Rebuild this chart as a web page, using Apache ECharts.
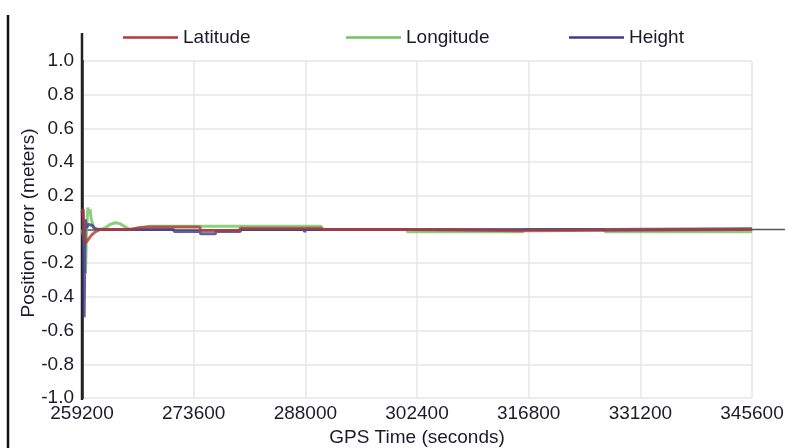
<!DOCTYPE html>
<html>
<head>
<meta charset="utf-8">
<script src="https://cdn.jsdelivr.net/npm/echarts@6/dist/echarts.min.js"></script>
<style>html,body{margin:0;padding:0;background:#fff;}#c{width:785px;height:448px;}</style>
</head>
<body>
<div id="c"></div>
<script>
const seriesNames = ['Latitude', 'Longitude', 'Height'];
const xTicks = [259200, 273600, 288000, 302400, 316800, 331200, 345600];
const yTicks = [-1.0, -0.8, -0.6, -0.4, -0.2, 0.0, 0.2, 0.4, 0.6, 0.8, 1.0];

const latitude = [
  [259200, 0.1], [259330, 0.12], [259460, 0.0], [259600, -0.08], [259800, -0.075],
  [260000, -0.06], [260230, -0.045], [260500, -0.03], [260880, -0.015], [261500, 0.0],
  [262800, 0.0], [264000, 0.0], [265400, 0.0], [266700, 0.01], [268000, 0.015],
  [274400, 0.015], [274500, -0.006], [279500, -0.006], [279600, 0.008], [290000, 0.008],
  [290300, 0.0], [301000, 0.0], [301200, -0.008], [316000, -0.008], [316200, 0.0],
  [345600, 0.0]
];
const longitude = [
  [259200, 0.0], [259450, -0.05], [259650, -0.26], [259780, -0.02], [259950, 0.13],
  [260100, 0.1], [260230, 0.12], [260400, 0.06], [260700, 0.01], [261000, 0.0],
  [261600, 0.0], [262200, 0.01], [262800, 0.03], [263500, 0.04], [264100, 0.035],
  [264800, 0.015], [265400, 0.0], [266700, 0.012], [268000, 0.02], [280000, 0.02],
  [290000, 0.02], [290300, 0.0], [301000, 0.0], [301200, -0.014], [316000, -0.014],
  [316200, 0.0], [326500, 0.0], [326700, -0.014], [345600, -0.014]
];
const height = [
  [259200, 0.1], [259330, 0.12], [259480, -0.52], [259620, 0.06], [259800, 0.01],
  [260000, 0.03], [260230, 0.04], [260500, 0.025], [260880, 0.005], [261500, 0.0],
  [271000, 0.0], [271100, -0.012], [274400, -0.012], [274500, -0.025], [276400, -0.025],
  [276500, -0.012], [279600, -0.012], [279700, 0.0], [287800, 0.0], [287900, -0.014],
  [288100, 0.0], [326500, 0.0], [326700, 0.004], [345600, 0.004]
];
const colors = ['#b03a3a', '#72c35f', '#3f3a8a'];

const chart = echarts.init(document.getElementById('c'), null, {renderer: 'canvas'});
const font = 'Liberation Sans, Arial, sans-serif';
const legendLefts = [123, 346, 569];
const option = {
  animation: false,
  backgroundColor: '#fff',
  textStyle: {fontFamily: font},
  grid: {left: 82, right: 33, top: 61, bottom: 50, containLabel: false, outerBoundsMode: 'none'},
  legend: seriesNames.map((n, i) => ({
    data: [n], left: legendLefts[i], top: 28, itemWidth: 55, itemHeight: 2.5,
    icon: 'rect', itemGap: 0, padding: 0,
    textStyle: {fontSize: 19, color: '#1a1a2a', fontFamily: font}
  })),
  xAxis: {
    type: 'value', min: xTicks[0], max: xTicks[xTicks.length - 1], interval: 14400,
    name: 'GPS Time (seconds)', nameLocation: 'middle', nameGap: 30, nameMoveOverlap: false,
    nameTextStyle: {fontSize: 19, color: '#1a1a2a', fontFamily: font},
    axisLine: {onZero: true, lineStyle: {color: '#555', width: 1.5}},
    axisTick: {show: false},
    axisLabel: {fontSize: 19, color: '#1a1a2a', margin: 6, fontFamily: font,
      customValues: xTicks, formatter: v => String(v)},
    splitLine: {show: true, lineStyle: {color: '#e6e6e6', width: 1.5}}
  },
  yAxis: {
    type: 'value', min: -1, max: 1, interval: 0.2,
    name: 'Position error (meters)', nameLocation: 'middle', nameGap: 44, nameMoveOverlap: false,
    nameTextStyle: {fontSize: 19, color: '#1a1a2a', fontFamily: font, padding: [0, 0, 0, 13]},
    axisLine: {show: true, lineStyle: {color: '#222', width: 2.5}},
    axisTick: {show: false},
    axisLabel: {fontSize: 19, color: '#1a1a2a', margin: 8, fontFamily: font,
      formatter: v => v.toFixed(1)},
    splitLine: {show: true, lineStyle: {color: '#e6e6e6', width: 1.5}}
  },
  series: [latitude, longitude, height].map((d, i) => ({
    name: seriesNames[i], type: 'line', data: d, symbol: 'none', showSymbol: false,
    color: colors[i],
    lineStyle: {width: 3, color: colors[i], opacity: 0.8},
    z: [4, 2, 3][i]
  }))
};
chart.setOption(option);

// decorative extensions (axis line above grid, zero line beyond grid, page border)
const pTop = chart.convertToPixel({gridIndex: 0}, [xTicks[0], 1]);
const pBot = chart.convertToPixel({gridIndex: 0}, [xTicks[0], -1]);
const pZeroEnd = chart.convertToPixel({gridIndex: 0}, [xTicks[xTicks.length - 1], 0]);
chart.setOption({
  graphic: [
    {type: 'line', shape: {x1: pTop[0], y1: pTop[1] - 28, x2: pTop[0], y2: pBot[1] + 2},
      style: {stroke: '#222', lineWidth: 2.5}, z: 1},
    {type: 'line', shape: {x1: pZeroEnd[0], y1: pZeroEnd[1], x2: 785, y2: pZeroEnd[1]},
      style: {stroke: '#555', lineWidth: 1.5}, z: 10},
    {type: 'line', shape: {x1: 8, y1: 15, x2: 8, y2: 448},
      style: {stroke: '#111', lineWidth: 2.5}, z: 10}
  ]
});
</script>
</body>
</html>
